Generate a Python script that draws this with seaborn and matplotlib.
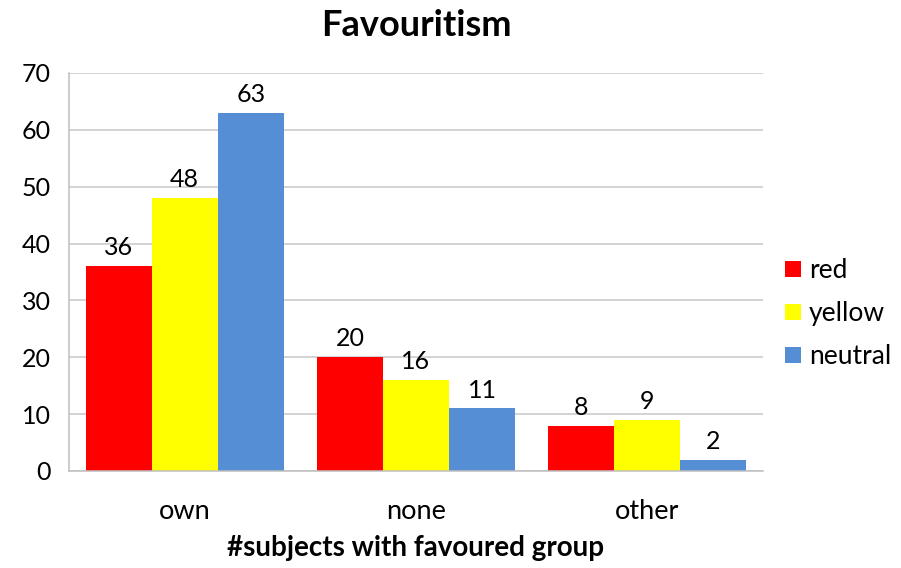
import matplotlib
matplotlib.use("Agg")
import matplotlib.pyplot as plt
import seaborn as sns
import pandas as pd

categories = ["own", "none", "other"]
groups = ["red", "yellow", "neutral"]
red_values = [36, 20, 8]
yellow_values = [48, 16, 9]
neutral_values = [63, 11, 2]
y_ticks = [0, 10, 20, 30, 40, 50, 60, 70]
colors = ["#FF0000", "#FFFF00", "#558ED5"]

rows = []
for g, vals in zip(groups, [red_values, yellow_values, neutral_values]):
    for c, v in zip(categories, vals):
        rows.append({"category": c, "group": g, "count": v})
df = pd.DataFrame(rows)

sns.set_theme(style="white")
plt.rcParams["font.family"] = ["Lato", "DejaVu Sans"]
plt.rcParams["text.color"] = "#000000"
plt.rcParams["axes.labelcolor"] = "#000000"
plt.rcParams["xtick.color"] = "#000000"
plt.rcParams["ytick.color"] = "#000000"

fig = plt.figure(figsize=(9.01, 5.68), dpi=100)
ax = fig.add_axes([69 / 901, 1 - 471 / 568, (763 - 69) / 901, (471 - 73) / 568])

sns.barplot(data=df, x="category", y="count", hue="group", order=categories,
            hue_order=groups, palette=colors, width=0.857, saturation=1,
            linewidth=0, ax=ax)

for container in ax.containers:
    ax.bar_label(container, fontsize=18, padding=5, color="#000000")

ax.set_ylim(0, 70)
ax.set_xlim(-0.5, 2.5)
ax.set_yticks(y_ticks)
ax.set_yticklabels([str(t) for t in y_ticks], fontsize=18)
ax.grid(axis="y", color="#C8C8C8", linewidth=1.1)
ax.set_axisbelow(True)

ax.set_xticks(range(len(categories)))
ax.set_xticklabels(categories, fontsize=19.5)
ax.set_xticks([-0.5, 0.5, 1.5, 2.5], minor=True)
ax.tick_params(axis="x", which="major", length=0, pad=20)
ax.tick_params(axis="x", which="minor", length=10, width=1.1, color="#BFBFBF", direction="out")
ax.tick_params(axis="y", length=8, width=1.1, color="#C8C8C8", pad=5)
ax.tick_params(axis="both", labelcolor="#000000")

for side in ["top", "right"]:
    ax.spines[side].set_visible(False)
for side in ["left", "bottom"]:
    ax.spines[side].set_color("#BFBFBF")
    ax.spines[side].set_linewidth(1.1)

ax.set_ylabel("")
ax.set_xlabel("#subjects with favoured group", fontsize=20, fontweight="bold", labelpad=8)
ax.set_title("Favouritism", fontsize=26, fontweight="bold", pad=27, color="#000000")

handles, labels = ax.get_legend_handles_labels()
ax.legend(handles, labels, loc="center left", bbox_to_anchor=(1.017, 0.395),
          frameon=False, fontsize=19, handlelength=0.6, handleheight=0.6,
          handletextpad=0.3, labelspacing=0.68, borderaxespad=0)

fig.savefig("out.png", dpi=100)
